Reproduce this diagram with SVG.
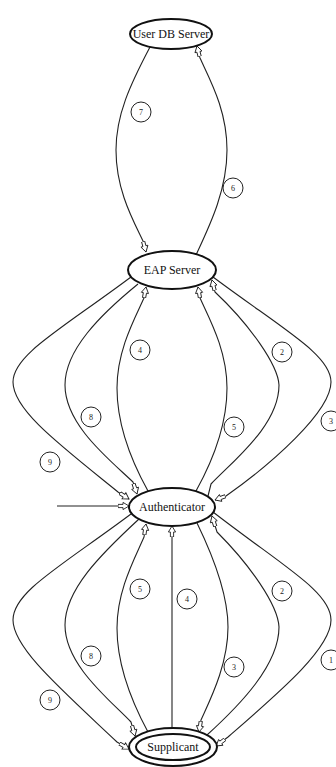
<svg xmlns="http://www.w3.org/2000/svg" width="336" height="767" viewBox="0 0 336 767">
<defs>
<style>
.node ellipse{fill:#fff;stroke:#111;stroke-width:2}
.node text{font-family:"Liberation Serif","Times New Roman",serif;font-size:12px;fill:#111;text-anchor:middle}
.edge{fill:none;stroke:#222;stroke-width:1.1;marker-end:url(#ah)}
.lbl circle{fill:#fff;stroke:#222;stroke-width:1}
.lbl text{font-family:"Liberation Serif","Times New Roman",serif;font-size:8px;fill:#222;text-anchor:middle}
</style>
<marker id="ah" viewBox="0 -5 12 10" refX="11" refY="0" markerWidth="12" markerHeight="10" markerUnits="userSpaceOnUse" orient="auto">
<path d="M0,-1.6 L5,-1.6 L5,-3.6 L11,0 L5,3.6 L5,1.6 L0,1.6 Z" fill="#fff" stroke="#222" stroke-width="0.9"/>
</marker>
</defs>
<rect width="336" height="767" fill="#fff"/>
<g id="connectors">
<path class="edge" d="M150,47 C130,85 116,115 116,150 C116,190 133,220 143,241 L146,252"/>
<path class="edge" d="M196,255 C210,225 227,190 227,150 C227,110 210,80 200,58 L197,46"/>
<path class="edge" d="M131,277 C60,330 13,355 13,382 C13,410 60,445 118,492 L129,499"/>
<path class="edge" d="M138,284 C100,315 65,350 65,385 C65,425 110,460 133,482 L137,494"/>
<path class="edge" d="M148,491 C128,455 117,420 117,388 C117,350 135,318 144,298 L146,287"/>
<path class="edge" d="M196,491 C216,455 227,420 227,388 C227,350 209,318 200,298 L198,287"/>
<path class="edge" d="M208,496 L211,484 C234,460 279,425 279,385 C278,365 250,325 215,292 L212,280"/>
<path class="edge" d="M213,277 C284,330 331,355 331,382 C331,412 270,465 226,496 L215,500"/>
<path class="edge" d="M57,506 L129,506"/>
<path class="edge" d="M131,514 C60,567 13,592 13,620 C13,648 62,690 117,742 L129,749"/>
<path class="edge" d="M139,519 C100,555 65,590 65,625 C65,665 110,700 131,722 L135,736"/>
<path class="edge" d="M148,732 C128,695 117,660 117,628 C117,590 135,558 144,537 L146,524"/>
<path class="edge" d="M172,728 L172,526"/>
<path class="edge" d="M197,523 C215,560 228,595 228,627 C228,665 210,700 201,720 L199,732"/>
<path class="edge" d="M207,735 C240,705 279,665 279,627 C278,605 250,565 217,532 L212,516"/>
<path class="edge" d="M213,512 C284,567 331,592 331,620 C331,648 282,690 228,737 L216,746"/>
</g>
<g id="edge-labels" class="lbl">
<circle cx="141" cy="112" r="10"/><text x="141" y="115">7</text>
<circle cx="233" cy="188" r="10"/><text x="233" y="191">6</text>
<circle cx="140" cy="350" r="10"/><text x="140" y="353">4</text>
<circle cx="282" cy="352" r="10"/><text x="282" y="355">2</text>
<circle cx="91" cy="417" r="10"/><text x="91" y="420">8</text>
<circle cx="234" cy="427" r="10"/><text x="234" y="430">5</text>
<circle cx="331" cy="421" r="10"/><text x="331" y="424">3</text>
<circle cx="50" cy="462" r="10"/><text x="50" y="465">9</text>
<circle cx="140" cy="589" r="10"/><text x="140" y="592">5</text>
<circle cx="187" cy="599" r="10"/><text x="187" y="602">4</text>
<circle cx="282" cy="591" r="10"/><text x="282" y="594">2</text>
<circle cx="91" cy="656" r="10"/><text x="91" y="659">8</text>
<circle cx="234" cy="667" r="10"/><text x="234" y="670">3</text>
<circle cx="331" cy="660" r="10"/><text x="331" y="663">1</text>
<circle cx="50" cy="700" r="10"/><text x="50" y="703">9</text>
</g>
<g id="node-userdb" class="node">
<ellipse cx="171" cy="34" rx="41" ry="15"/>
<text x="171" y="38">User DB Server</text>
</g>
<g id="node-eap" class="node">
<ellipse cx="172" cy="270" rx="44" ry="19"/>
<text x="172" y="274">EAP Server</text>
</g>
<g id="node-auth" class="node">
<ellipse cx="172" cy="507" rx="43" ry="19"/>
<text x="172" y="511">Authenticator</text>
</g>
<g id="node-supp" class="node">
<ellipse cx="173" cy="747" rx="44" ry="19"/>
<ellipse cx="173" cy="747" rx="37" ry="13"/>
<text x="173" y="751">Supplicant</text>
</g>
</svg>
